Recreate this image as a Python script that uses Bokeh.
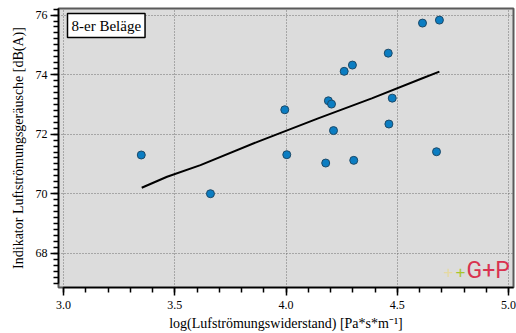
import numpy as np
from bokeh.plotting import figure
from bokeh.models import FixedTicker, PrintfTickFormatter, Label, Range1d
from bokeh.embed import file_html
from bokeh.resources import INLINE

# Measured pavements (log flow resistance vs. airflow-noise indicator)
log_resistance = [3.349, 3.660, 3.994, 4.003, 4.178, 4.190, 4.204, 4.213, 4.261,
                  4.298, 4.304, 4.459, 4.462, 4.477, 4.613, 4.689, 4.676]
noise_level = [71.30, 70.00, 72.82, 71.31, 71.03, 73.12, 73.01, 72.12, 74.11,
               74.32, 71.12, 74.72, 72.34, 73.21, 75.73, 75.83, 71.41]

# Trend curve
trend_x = [3.351, 3.465, 3.615, 3.874, 4.144, 4.385, 4.610, 4.689]
trend_y = [70.20, 70.57, 70.96, 71.75, 72.53, 73.20, 73.87, 74.10]

x_major = [3.0, 3.5, 4.0, 4.5, 5.0]
y_major = [68, 70, 72, 74, 76]

SERIF = "Liberation Serif"

p = figure(width=516, height=333, output_backend="svg", toolbar_location=None,
           x_range=Range1d(2.977, 5.022), y_range=Range1d(66.85, 76.22),
           min_border_left=58, min_border_right=3, min_border_top=8, min_border_bottom=45)

p.background_fill_color = "#dcdcdc"
p.border_fill_color = "white"
p.outline_line_color = "#5a5a5a"
p.outline_line_width = 2

# grid
for g in (p.xgrid, p.ygrid):
    g.grid_line_color = "#707070"
    g.grid_line_dash = "1 2"
    g.grid_line_width = 1
p.xgrid.ticker = FixedTicker(ticks=x_major)
p.ygrid.ticker = FixedTicker(ticks=y_major)

# axes
p.xaxis.ticker = FixedTicker(ticks=x_major, minor_ticks=list(np.round(np.arange(3.0, 5.0001, 0.1), 2)))
p.yaxis.ticker = FixedTicker(ticks=y_major, minor_ticks=list(np.round(np.arange(67.0, 76.21, 0.2), 2)))
p.xaxis.formatter = PrintfTickFormatter(format="%.1f")
p.yaxis.formatter = PrintfTickFormatter(format="%d")
p.xaxis.bounds = (3.0, 5.022)
p.yaxis.bounds = (67.0, 76.22)

p.xaxis.axis_label = "log(Lufströmungswiderstand) [Pa*s*m⁻¹]"
p.yaxis.axis_label = "Indikator Luftströmungsgeräusche [dB(A)]"

for ax in (p.xaxis, p.yaxis):
    ax.axis_line_color = "black"
    ax.axis_line_width = 1.5
    ax.major_tick_line_color = "black"
    ax.minor_tick_line_color = "black"
    ax.major_tick_line_width = 1.5
    ax.minor_tick_line_width = 1.5
    ax.major_tick_out = 8
    ax.major_tick_in = 0
    ax.minor_tick_out = 5
    ax.minor_tick_in = 0
    ax.major_label_text_font = SERIF
    ax.major_label_text_font_size = "12px"
    ax.major_label_text_color = "black"
    ax.axis_label_text_font = SERIF
    ax.axis_label_text_font_size = "14px"
    ax.axis_label_text_font_style = "normal"
    ax.axis_label_text_color = "black"
p.xaxis.major_label_standoff = 5
p.xaxis.axis_label_standoff = 4
p.yaxis.major_label_standoff = 3
p.yaxis.axis_label_standoff = 7

# trend curve and points
p.line(trend_x, trend_y, line_color="black", line_width=2)
p.scatter(log_resistance, noise_level, size=8, fill_color="#0b7dc2",
          line_color="#1d4a68", line_width=1)

# title box
p.add_layout(Label(x=9, y=274, x_units="screen", y_units="screen", text="8-er Beläge",
                   text_font=SERIF, text_font_size="15px", text_color="black",
                   text_align="left", text_baseline="top",
                   background_fill_color="white", border_line_color="black",
                   border_line_width=1.5, padding=4))

# logo
p.add_layout(Label(x=390, y=16, x_units="screen", y_units="screen", text="+",
                   text_font="Liberation Sans", text_font_size="17px", text_color="#e6d9a2",
                   text_align="center", text_baseline="middle"))
p.add_layout(Label(x=402, y=16, x_units="screen", y_units="screen", text="+",
                   text_font="Liberation Sans", text_font_size="17px", text_color="#a7c62a",
                   text_align="center", text_baseline="middle"))
p.add_layout(Label(x=408, y=4, x_units="screen", y_units="screen", text="G+P",
                   text_font="Roboto", text_font_size="23px", text_color="#d9324f"))

open("out.html", "w").write(file_html(p, INLINE))
